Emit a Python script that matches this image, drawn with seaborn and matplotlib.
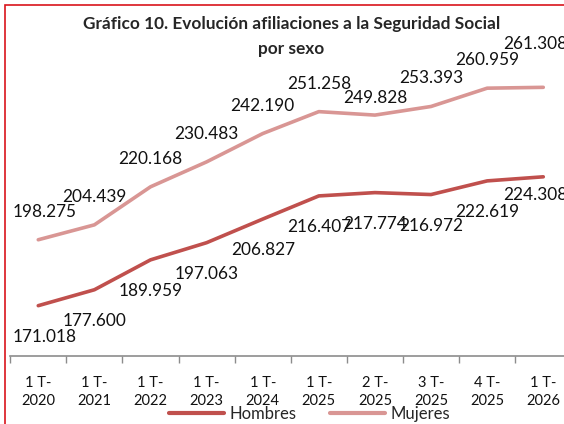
import pandas as pd
import seaborn as sns
import matplotlib.pyplot as plt
from matplotlib.patches import Rectangle

periodos = ['1 T-\n2020', '1 T-\n2021', '1 T-\n2022', '1 T-\n2023', '1 T-\n2024',
            '1 T-\n2025', '2 T-\n2025', '3 T-\n2025', '4 T-\n2025', '1 T-\n2026']
hombres = [171018, 177600, 189959, 197063, 206827, 216407, 217774, 216972, 222619, 224308]
mujeres = [198275, 204439, 220168, 230483, 242190, 251258, 249828, 253393, 260959, 261308]

colores = {'Hombres': '#C0504D', 'Mujeres': '#D99694'}

df = pd.DataFrame({
    'pos': list(range(len(periodos))) * 2,
    'afiliados': hombres + mujeres,
    'sexo': ['Hombres'] * len(hombres) + ['Mujeres'] * len(mujeres),
})

sns.set_style('white')
plt.rcParams['font.family'] = ['Lato', 'DejaVu Sans']

fig = plt.figure(figsize=(5.64, 4.24), dpi=100)
ax = fig.add_axes([0.0181, 0.1592, 0.9949, 0.6844])

sns.lineplot(data=df, x='pos', y='afiliados', hue='sexo', palette=colores,
             linewidth=2.6, ax=ax, legend=False)

ax.set_xlim(-0.5, len(periodos) - 0.5)
ax.set_ylim(150000, 270000)
ax.set_xlabel('')
ax.set_ylabel('')
ax.set_yticks([])
ax.set_xticks(range(len(periodos)))
ax.set_xticklabels(periodos, fontsize=10.5, linespacing=1.35, color='#111111')
ax.set_xticks([i - 0.5 for i in range(len(periodos) + 1)], minor=True)
ax.tick_params(axis='x', which='major', length=0, pad=14)
ax.tick_params(axis='x', which='minor', length=5, width=1, color='#8C8C8C', bottom=True)
for s in ['top', 'right', 'left']:
    ax.spines[s].set_visible(False)
ax.spines['bottom'].set_color('#8C8C8C')
ax.spines['bottom'].set_linewidth(1.2)


def fmt(v):
    return f'{v:,}'.replace(',', '.')


# desplazamientos de etiquetas en pixeles
off_h = {0: (6, -31), 9: (-8, -18)}
off_m = {0: (6, 28), 6: (0, 17), 9: (-8, 43)}
for i, v in enumerate(hombres):
    dx, dy = off_h.get(i, (0, -31))
    ax.annotate(fmt(v), (i, v), xytext=(dx, dy), textcoords='offset pixels',
                ha='center', va='center', fontsize=12.4, color='#111111',
                annotation_clip=False)
for i, v in enumerate(mujeres):
    dx, dy = off_m.get(i, (0, 28))
    ax.annotate(fmt(v), (i, v), xytext=(dx, dy), textcoords='offset pixels',
                ha='center', va='center', fontsize=12.4, color='#111111',
                annotation_clip=False)

fig.text(291.4 / 564, 1 - 24.5 / 424,
         'Gráfico 10. Evolución afiliaciones a la Seguridad Social',
         ha='center', va='center', fontsize=12.4, fontweight='bold')
fig.text(291.4 / 564, 1 - 48.6 / 424, 'por sexo',
         ha='center', va='center', fontsize=12.4, fontweight='bold')

handles = [plt.Line2D([], [], color=colores[k], linewidth=3) for k in colores]
fig.legend(handles, list(colores), loc='center', bbox_to_anchor=(309.5 / 564, 1 - 414 / 424),
           ncol=2, frameon=False, fontsize=12, handlelength=3.3, handletextpad=0.35,
           columnspacing=2.0, borderpad=0, borderaxespad=0)

fig.patches.append(Rectangle((5 / 564, -0.1), 1.2, 1.1 - 5 / 424, transform=fig.transFigure,
                             fill=False, edgecolor='#D9141B', linewidth=1.2))

fig.savefig('out.png', dpi=100, facecolor='white')
